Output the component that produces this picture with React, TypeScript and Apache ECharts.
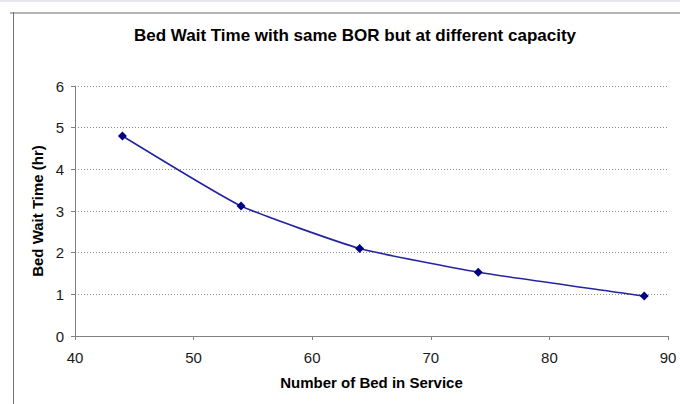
import React, { useEffect, useRef } from "react";
import * as echarts from "echarts";

const titleText = "Bed Wait Time with same BOR but at different capacity";
const xAxisName = "Number of Bed in Service";
const yAxisName = "Bed Wait Time (hr)";
const bedsInService = [44, 54, 64, 74, 88];
const waitHours = [4.8, 3.12, 2.1, 1.53, 0.96];

export default function App() {
  const ref = useRef<HTMLDivElement>(null);
  useEffect(() => {
    if (!ref.current) return;
    const chart = echarts.init(ref.current, null, { renderer: "svg" });
    const font = "Arial, 'Liberation Sans', sans-serif";
    chart.setOption({
      animation: false,
      backgroundColor: "#ffffff",
      title: {
        text: titleText,
        left: 350,
        textAlign: "center",
        top: 22,
        textStyle: { fontFamily: font, fontSize: 17, fontWeight: "bold", color: "#000" },
      },
      graphic: [
        { type: "rect", shape: { x: 0, y: 0, width: 680, height: 2 }, style: { fill: "#e6e6ef" }, silent: true },
        { type: "rect", shape: { x: 10, y: 12, width: 670, height: 2 }, style: { fill: "#b4b4b4" }, silent: true },
        { type: "rect", shape: { x: 13, y: 12, width: 1, height: 392 }, style: { fill: "#707070" }, silent: true },
      ],
      grid: { left: 75, right: 12, top: 86, bottom: 68, containLabel: false },
      xAxis: {
        type: "value",
        min: 40,
        max: 90,
        interval: 10,
        name: xAxisName,
        nameLocation: "middle",
        nameGap: 39,
        nameTextStyle: { fontFamily: font, fontSize: 15, fontWeight: "bold", color: "#000" },
        axisLine: { onZero: false, lineStyle: { color: "#808080", width: 1 } },
        axisTick: { show: true, inside: false, length: 4, lineStyle: { color: "#808080" } },
        axisLabel: { margin: 14, fontFamily: font, fontSize: 15, color: "#1a1a1a" },
        splitLine: { show: false },
      },
      yAxis: {
        type: "value",
        min: 0,
        max: 6,
        interval: 1,
        name: yAxisName,
        nameLocation: "middle",
        nameGap: 28,
        nameTextStyle: { fontFamily: font, fontSize: 15, fontWeight: "bold", color: "#000" },
        axisLine: { show: true, lineStyle: { color: "#808080", width: 1 } },
        axisTick: { show: true, inside: false, length: 4, lineStyle: { color: "#808080" } },
        axisLabel: { margin: 11, fontFamily: font, fontSize: 15, color: "#1a1a1a" },
        splitLine: { show: true, lineStyle: { color: "#8c8c8c", type: [1, 2], width: 1 } },
      },
      series: [
        {
          type: "line",
          data: bedsInService.map((x, i) => [x, waitHours[i]]),
          smooth: 0.15,
          symbol: "diamond",
          symbolSize: 9,
          itemStyle: { color: "#000080" },
          lineStyle: { color: "#2424a0", width: 1.6 },
        },
      ],
    });
    return () => chart.dispose();
  }, []);
  return (
    <div
      ref={ref}
      style={{ position: "fixed", left: 0, top: 0, width: 680, height: 404 }}
    />
  );
}
